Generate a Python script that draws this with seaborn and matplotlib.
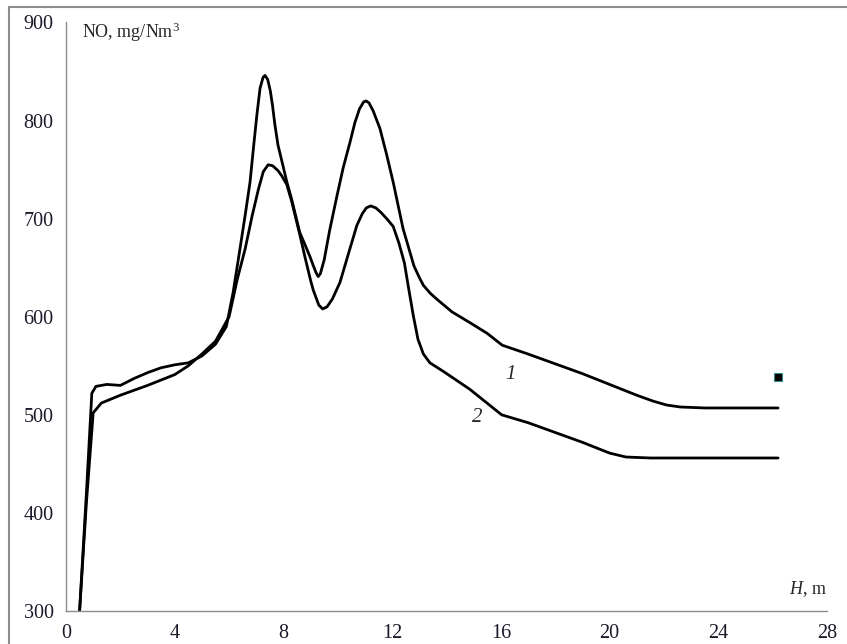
import pandas as pd
import matplotlib.pyplot as plt
import seaborn as sns
from matplotlib.patches import Rectangle

# curve 1 (upper)
h_1 = [0.5, 0.75, 0.95, 1.1, 1.5, 2.0, 2.5, 3.0, 3.5, 4.0, 4.5, 5.0, 5.5, 5.9,
       6.15, 6.4, 6.6, 6.77, 6.9, 7.02, 7.14, 7.25, 7.32, 7.42, 7.52, 7.6,
       7.69, 7.8, 8.0, 8.12, 8.3, 8.6, 8.8, 8.98, 9.1, 9.2, 9.28, 9.36, 9.5,
       9.7, 9.96, 10.2, 10.45, 10.63, 10.8, 10.95, 11.04, 11.15, 11.3, 11.55,
       11.8, 12.04, 12.4, 12.8, 13.0, 13.15, 13.4, 13.64, 14.2, 14.86, 15.5,
       16.05, 17.0, 18.0, 19.0, 20.0, 21.0, 21.6, 22.1, 22.6, 23.5, 26.2]
no_1 = [300, 420, 522, 529, 531, 530, 537, 543, 548, 551, 553, 560, 572, 590,
        625, 669, 705, 737, 773, 805, 833, 844, 846, 842, 830, 815,
        795, 775, 752, 738, 720, 686, 673, 661, 652, 645, 641, 644, 658,
        688, 722, 752, 778, 798, 812, 819, 820, 818, 810, 792,
        765, 737, 690, 652, 640, 632, 624, 618, 605, 594, 583,
        571, 562, 552, 542, 531, 520, 514, 510, 508, 507, 507]

# curve 2 (lower)
h_2 = [0.5, 0.75, 1.0, 1.3, 2.0, 3.0, 4.0, 4.5, 5.0, 5.5, 6.0, 6.3, 6.59,
       6.85, 7.08, 7.26, 7.44, 7.6, 7.8, 7.93, 8.12, 8.3, 8.6, 8.8, 9.0,
       9.1, 9.3, 9.44, 9.6, 9.8, 10.08, 10.4, 10.7, 10.9, 11.05, 11.21, 11.4,
       11.6, 11.8, 12.04, 12.25, 12.45, 12.6, 12.78, 12.95, 13.15, 13.39,
       13.9, 14.86, 16.03, 17.0, 18.0, 19.0, 20.0, 20.6, 21.5, 26.2]
no_2 = [300, 410, 502, 512, 520, 530, 541, 550, 562, 575, 600, 638, 669,
        703, 730, 748, 755, 754, 749, 744, 735, 718, 684, 660, 637,
        627, 612, 608, 610, 618, 635, 665, 693, 705, 711, 713, 711,
        706, 700, 692, 675, 655, 630, 601, 577, 562, 553,
        544, 526, 500, 492, 482, 472, 461, 457, 456, 456]

# single square point
h_pt = [26.2]
no_pt = [539]

x_ticks = [0, 4, 8, 12, 16, 20, 24, 28]
y_ticks = [300, 400, 500, 600, 700, 800, 900]

sns.set_style('white')
plt.rcParams['font.family'] = ['Liberation Serif', 'DejaVu Serif']
plt.rcParams['mathtext.fontset'] = 'custom'
plt.rcParams['mathtext.rm'] = 'Liberation Serif'
plt.rcParams['mathtext.it'] = 'Liberation Serif:italic'

df1 = pd.DataFrame({'H': h_1, 'NO': no_1})
df2 = pd.DataFrame({'H': h_2, 'NO': no_2})

fig = plt.figure(figsize=(8.47, 6.44), dpi=100)
ax = fig.add_axes([66 / 847, 1 - 611 / 644, 761 / 847, 588.5 / 644])

# outer frame
fig.patches.append(Rectangle((9 / 847, -0.1), 1.2, 1.1 - 7 / 644,
                             transform=fig.transFigure, fill=False,
                             edgecolor='#8c8c8c', linewidth=1.5))

sns.lineplot(data=df1, x='H', y='NO', sort=False, estimator=None,
             color='black', linewidth=2.0, ax=ax)
sns.lineplot(data=df2, x='H', y='NO', sort=False, estimator=None,
             color='black', linewidth=2.0, ax=ax)
ax.plot(h_pt, no_pt, marker='s', markersize=6, color='black',
        markeredgecolor='#2f8f8f', markeredgewidth=0.8, linestyle='none')

ax.set_xlim(0, 28)
ax.set_ylim(300, 900)
ax.set_xticks(x_ticks)
ax.set_yticks(y_ticks)
ax.set_xlabel('')
ax.set_ylabel('')

for side in ['top', 'right']:
    ax.spines[side].set_visible(False)
for side in ['left', 'bottom']:
    ax.spines[side].set_color('#8c8c8c')
    ax.spines[side].set_linewidth(1.0)
ax.tick_params(axis='both', direction='out', length=5, width=1.0,
               color='#8c8c8c', labelsize=14.5, labelcolor='#1a1a2a')
ax.tick_params(axis='x', pad=4)
ax.tick_params(axis='y', pad=4)

ax.text(0.6, 890, 'NO, mg/Nm$^3$', fontsize=13, ha='left', va='center')
ax.text(28, 322, '$H$, m', fontsize=13, ha='right', va='center')
ax.text(16.37, 541, '1', fontsize=15, style='italic', ha='center', va='center')
ax.text(15.12, 497, '2', fontsize=15, style='italic', ha='center', va='center')

fig.savefig('out.png', dpi=100)
